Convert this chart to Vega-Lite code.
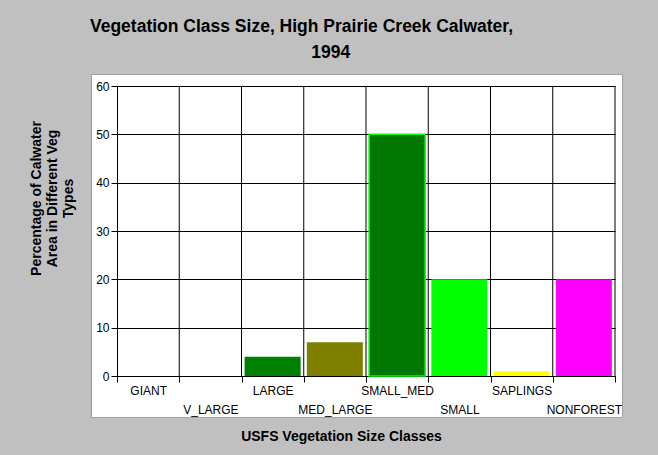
{
  "$schema": "https://vega.github.io/schema/vega-lite/v6.json",
  "width": 531,
  "height": 343,
  "autosize": {"type": "none"},
  "padding": {"left": 91, "top": 74, "right": 36, "bottom": 38},
  "background": "#c0c0c0",
  "title": {
    "text": ["Vegetation Class Size, High Prairie Creek Calwater,", "\u200b\u00a0\u00a0\u00a0\u00a0\u00a0\u00a0\u00a0\u00a0\u00a0\u00a0\u00a0\u00a01994"],
    "anchor": "middle",
    "dx": -55,
    "offset": 13,
    "font": "Liberation Sans",
    "fontSize": 17.5,
    "fontWeight": "bold",
    "color": "#000000",
    "lineHeight": 26
  },
  "config": {
    "view": {"fill": "#ffffff", "stroke": "#a0a0a0", "strokeWidth": 1},
    "axis": {
      "gridColor": "#000000",
      "gridOpacity": 1,
      "gridWidth": 1,
      "domainColor": "#000000",
      "domainWidth": 1,
      "tickColor": "#000000",
      "tickWidth": 1,
      "tickSize": 6,
      "labelFont": "Liberation Sans",
      "labelFontSize": 12,
      "labelColor": "#000000",
      "titleFont": "Liberation Sans",
      "titleFontSize": 14,
      "titleFontWeight": "bold",
      "titleColor": "#000000"
    }
  },
  "data": {
    "values": [
      {"cls": "GIANT", "pct": 0},
      {"cls": "V_LARGE", "pct": 0},
      {"cls": "LARGE", "pct": 4},
      {"cls": "MED_LARGE", "pct": 7},
      {"cls": "SMALL_MED", "pct": 50},
      {"cls": "SMALL", "pct": 20},
      {"cls": "SAPLINGS", "pct": 1},
      {"cls": "NONFOREST", "pct": 20}
    ]
  },
  "encoding": {
    "x": {
      "field": "cls",
      "type": "nominal",
      "sort": null,
      "scale": {"range": [26, 524], "paddingInner": 0, "paddingOuter": 0},
      "axis": {
        "grid": false,
        "offset": -41,
        "tickBand": "extent",
        "labelAngle": 0,
        "labelOverlap": false,
        "labelBaseline": "top",
        "labelPadding": 3,
        "labelLineHeight": 19,
        "labelExpr": "indexof(['V_LARGE','MED_LARGE','SMALL','NONFOREST'], datum.value) >= 0 ? ['', datum.value] : datum.value",
        "title": "USFS Vegetation Size Classes",
        "titleX": 250,
        "titleY": 64,
        "titleBaseline": "alphabetic",
        "titleAlign": "center"
      }
    }
  },
  "layer": [
    {
      "mark": {"type": "rule", "color": "#000000", "strokeWidth": 1},
      "encoding": {
        "x": {"field": "cls", "type": "nominal", "sort": null, "bandPosition": 1},
        "y": {"datum": 0, "type": "quantitative"},
        "y2": {"datum": 60}
      }
    },
    {
      "mark": {"type": "bar", "width": {"band": 0.9}},
      "encoding": {
        "y": {
          "field": "pct",
          "type": "quantitative",
          "scale": {"domain": [0, 60], "range": [302, 12], "nice": false},
          "axis": {
            "grid": true,
            "offset": -26,
            "values": [0, 10, 20, 30, 40, 50, 60],
            "labelPadding": 2,
            "title": ["Percentage of Calwater", "Area in Different Veg", "Types"],
            "titleAngle": 270,
            "titleBaseline": "middle",
            "titleAlign": "center",
            "titleLineHeight": 16,
            "titleX": -81,
            "titleY": 124
          }
        },
        "color": {
          "field": "cls",
          "type": "nominal",
          "scale": {
            "domain": ["GIANT", "V_LARGE", "LARGE", "MED_LARGE", "SMALL_MED", "SMALL", "SAPLINGS", "NONFOREST"],
            "range": ["#006400", "#006400", "#008000", "#808000", "#007800", "#00ff00", "#ffff00", "#ff00ff"]
          },
          "legend": null
        },
        "stroke": {
          "condition": {"test": "datum.cls === 'SMALL_MED'", "value": "#00ff00"},
          "value": null
        },
        "strokeWidth": {"value": 1.5}
      }
    }
  ]
}
